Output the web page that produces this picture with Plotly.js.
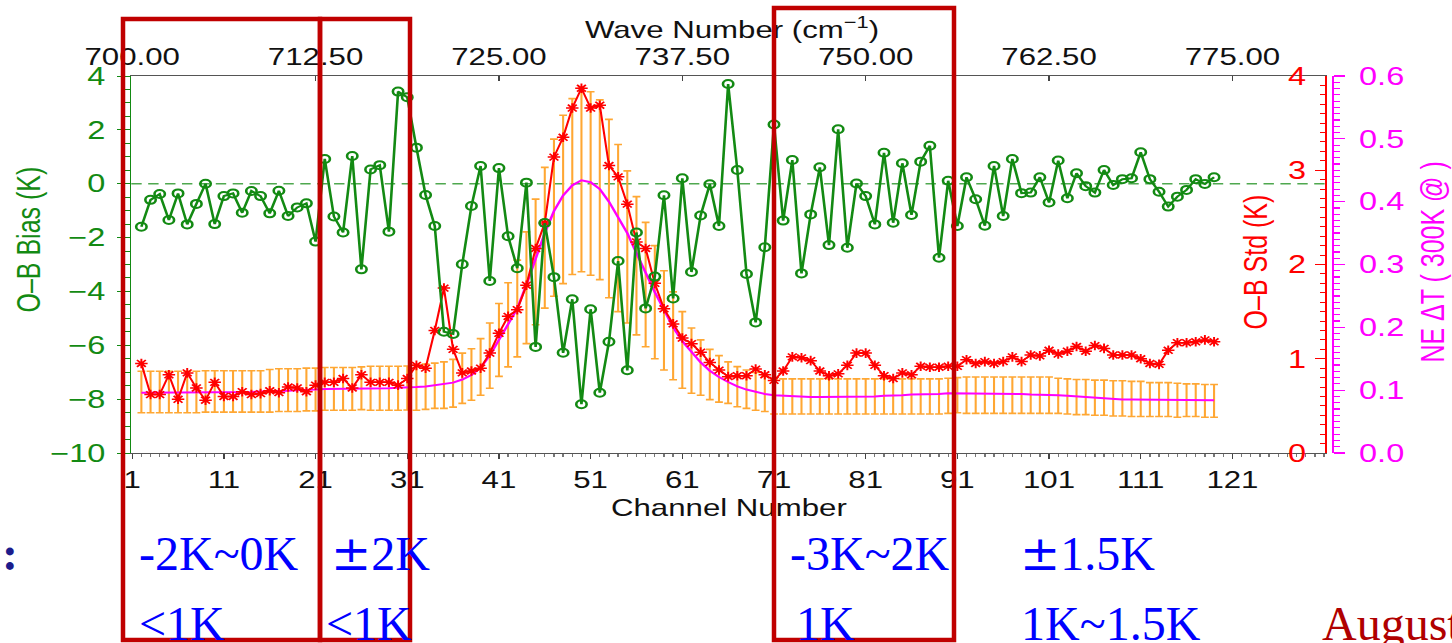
<!DOCTYPE html>
<html><head><meta charset="utf-8">
<script src="https://cdn.plot.ly/plotly-3.0.1.min.js"></script>
<style>
html,body{margin:0;padding:0;background:#fff;overflow:hidden;width:1452px;height:643px;}
#chart{position:absolute;left:0;top:0;width:1117px;height:643px;transform:scaleX(1.29991);transform-origin:0 0;}
#overlay{position:absolute;left:0;top:0;width:1452px;height:643px;pointer-events:none;}
</style></head><body>
<div id="chart"></div><div id="overlay"></div>
<script>
// ---------- data (channels 2..119) ----------
const obBias = [
 -1.60,-0.60,-0.38,-1.35,-0.36,-1.51,-0.75,0.00,-1.50,-0.46,
 -0.36,-1.08,-0.27,-0.46,-1.10,-0.26,-1.20,-0.88,-0.73,-2.15,
 0.92,-1.22,-1.81,1.03,-3.18,0.53,0.69,-1.78,3.42,3.21,
 1.34,-0.42,-1.57,-5.50,-5.58,-2.99,-0.83,0.66,-3.61,0.58,
 -1.95,-3.14,0.04,-6.06,-1.46,-3.47,-6.28,-4.29,-8.19,-4.66,
 -7.76,-5.87,-2.87,-6.93,-1.81,-4.63,-3.45,-0.43,-4.26,0.20,
 -3.28,-1.18,-0.02,-1.57,3.70,0.51,-3.35,-5.15,-2.36,2.20,
 -1.37,0.88,-3.33,-1.14,0.61,-2.28,2.02,-2.38,0.01,-0.46,
 -1.51,1.15,-1.45,0.76,-1.16,0.82,1.41,-2.75,0.11,-1.57,
 0.24,-0.58,-1.56,0.66,-1.20,0.92,-0.35,-0.33,0.24,-0.70,
 0.86,-0.54,0.39,-0.09,-0.33,0.51,-0.05,0.17,0.20,1.17,
 0.17,-0.30,-0.85,-0.48,-0.23,0.17,-0.01,0.24];
const obStd = [
 0.95,0.62,0.62,0.83,0.57,0.85,0.69,0.56,0.75,0.60,
 0.60,0.65,0.62,0.63,0.66,0.64,0.70,0.69,0.65,0.72,
 0.75,0.75,0.79,0.69,0.83,0.75,0.75,0.75,0.72,0.79,
 0.93,0.90,1.30,1.75,1.10,0.85,0.87,0.90,1.06,1.27,
 1.45,1.52,1.78,2.17,2.44,3.14,3.35,3.66,3.87,3.66,
 3.69,3.05,2.93,2.64,2.24,2.17,1.80,1.53,1.37,1.22,
 1.16,1.07,0.96,0.88,0.81,0.82,0.82,0.89,0.83,0.77,
 0.87,1.02,1.01,0.98,0.87,0.82,0.84,0.93,1.06,1.06,
 0.93,0.82,0.79,0.85,0.83,0.92,0.91,0.91,0.92,0.92,
 0.99,0.95,0.97,0.95,0.97,1.02,0.97,1.04,1.03,1.09,
 1.05,1.08,1.13,1.08,1.14,1.11,1.04,1.04,1.04,1.00,
 0.95,0.94,1.09,1.17,1.17,1.18,1.20,1.18];
const nedt = [
 0.096,0.096,0.096,0.096,0.096,0.096,0.096,0.096,0.097,0.097,
 0.097,0.097,0.097,0.098,0.098,0.098,0.099,0.100,0.100,0.101,
 0.102,0.102,0.102,0.103,0.103,0.103,0.103,0.103,0.104,0.104,
 0.105,0.106,0.108,0.110,0.112,0.117,0.124,0.136,0.155,0.180,
 0.205,0.230,0.268,0.308,0.350,0.385,0.410,0.426,0.434,0.431,
 0.420,0.400,0.376,0.350,0.318,0.286,0.256,0.228,0.200,0.178,
 0.160,0.144,0.131,0.121,0.113,0.106,0.101,0.097,0.094,0.092,
 0.091,0.090,0.090,0.089,0.089,0.089,0.089,0.089,0.089,0.090,
 0.090,0.091,0.091,0.092,0.093,0.093,0.094,0.094,0.095,0.095,
 0.095,0.095,0.095,0.094,0.094,0.094,0.094,0.093,0.093,0.093,
 0.092,0.091,0.090,0.088,0.087,0.086,0.086,0.085,0.085,0.085,
 0.085,0.085,0.084,0.084,0.084,0.084,0.084,0.084];
const errMid = [
 0.097,0.097,0.097,0.097,0.097,0.097,0.097,0.098,0.098,0.098,
 0.098,0.098,0.098,0.098,0.099,0.100,0.100,0.100,0.101,0.101,
 0.102,0.102,0.102,0.102,0.103,0.103,0.103,0.103,0.103,0.1035,
 0.104,0.1055,0.107,0.108,0.111,0.119,0.125,0.137,0.155,0.180,
 0.204,0.230,0.263,0.304,0.3425,0.3745,0.4035,0.424,0.4345,0.429,
 0.419,0.389,0.358,0.328,0.298,0.268,0.240,0.211,0.1865,0.164,
 0.147,0.136,0.125,0.118,0.112,0.1055,0.1015,0.098,0.094,0.090,
 0.090,0.090,0.090,0.090,0.090,0.090,0.090,0.090,0.090,0.090,
 0.090,0.090,0.090,0.090,0.090,0.090,0.090,0.090,0.091,0.092,
 0.092,0.092,0.092,0.092,0.092,0.092,0.092,0.092,0.092,0.092,
 0.091,0.090,0.089,0.089,0.088,0.088,0.087,0.087,0.086,0.086,
 0.085,0.085,0.085,0.084,0.084,0.084,0.083,0.083];
const errHalf = [
 0.033,0.033,0.033,0.033,0.033,0.033,0.033,0.033,0.033,0.033,
 0.033,0.033,0.033,0.033,0.034,0.034,0.034,0.034,0.034,0.034,
 0.034,0.034,0.034,0.034,0.034,0.035,0.035,0.035,0.035,0.035,
 0.036,0.036,0.036,0.037,0.038,0.040,0.041,0.045,0.052,0.058,
 0.067,0.077,0.089,0.100,0.112,0.125,0.134,0.140,0.146,0.146,
 0.143,0.142,0.133,0.121,0.110,0.099,0.090,0.079,0.070,0.061,
 0.052,0.044,0.040,0.037,0.033,0.032,0.0305,0.030,0.028,0.028,
 0.028,0.028,0.028,0.028,0.028,0.028,0.028,0.028,0.028,0.028,
 0.028,0.028,0.028,0.028,0.028,0.028,0.028,0.028,0.028,0.028,
 0.029,0.029,0.029,0.029,0.029,0.029,0.029,0.029,0.029,0.029,
 0.028,0.028,0.028,0.028,0.028,0.028,0.028,0.028,0.028,0.028,
 0.027,0.027,0.027,0.027,0.026,0.026,0.026,0.026];
const firstChannel = 2;
const channels = obBias.map((_, i) => i + firstChannel);

const chanTicks = [1, 11, 21, 31, 41, 51, 61, 71, 81, 91, 101, 111, 121];
const waveTicks = [700, 712.5, 725, 737.5, 750, 762.5, 775];
const waveTickText = ['700.00','712.50','725.00','737.50','750.00','762.50','775.00'];
const biasTicks = [-10, -8, -6, -4, -2, 0, 2, 4];
const stdTicks = [0, 1, 2, 3, 4];
const nedtTicks = [0, 0.1, 0.2, 0.3, 0.4, 0.5, 0.6];
const nedtTickText = ['0.0','0.1','0.2','0.3','0.4','0.5','0.6'];

const PM = '<span style="font-family:\'DejaVu Serif\'">±</span>';
const rowOne = ['-2K~0K', PM + '2K', '-3K~2K', PM + '1.5K'];
const rowTwo = ['<1K', '<1K', '1K', '1K~1.5K'];

// ---------- geometry ----------
const W = 1117, H = 643, SX = 1452 / W;
const L = 101, R = 92, T = 76, B = 190;
const PW = W - L - R, PH = H - T - B;
const px = xa => (xa / SX - L) / PW;        // actual-pixel x -> paper
const py = ya => (H - B - ya) / PH;          // actual-pixel y -> paper
const xEnd = px(1325);

const FONT = 'Liberation Sans, Arial, Helvetica, sans-serif';
const GREEN = '#138a13', RED = '#ff0000', MAG = '#ff00ff', ORANGE = '#ffa733';

const traces = [
  {x: channels, y: errMid, xaxis: 'x', yaxis: 'y', type: 'scatter', mode: 'markers',
   marker: {size: 2, color: 'rgba(0,0,0,0)'},
   error_y: {type: 'data', array: errHalf, visible: true, color: ORANGE, thickness: 1.6, width: 3},
   hoverinfo: 'skip', showlegend: false},
  {x: channels, y: nedt, xaxis: 'x', yaxis: 'y', type: 'scatter', mode: 'lines',
   line: {color: MAG, width: 2}, showlegend: false},
  {x: channels, y: obStd, xaxis: 'x', yaxis: 'y2', type: 'scatter', mode: 'lines+markers',
   line: {color: RED, width: 1.6},
   marker: {symbol: 'asterisk-open', size: 8, color: RED, line: {color: RED, width: 1.5}},
   showlegend: false},
  {x: channels, y: obBias, xaxis: 'x', yaxis: 'y3', type: 'scatter', mode: 'lines+markers',
   line: {color: GREEN, width: 2},
   marker: {symbol: 'circle-open', size: 8, color: GREEN, line: {color: GREEN, width: 2}},
   showlegend: false},
  {x: waveTicks, y: waveTicks.map(() => null), xaxis: 'x2', yaxis: 'y', type: 'scatter',
   mode: 'lines', hoverinfo: 'skip', showlegend: false},
  {x: [chanTicks[0]], y: [null], xaxis: 'x', yaxis: 'y4', type: 'scatter',
   mode: 'lines', hoverinfo: 'skip', showlegend: false}
];

const layout = {
  width: W, height: H,
  margin: {l: L, r: R, t: T, b: B, pad: 0},
  paper_bgcolor: '#ffffff', plot_bgcolor: '#ffffff',
  font: {family: FONT, size: 24, color: '#111'},
  showlegend: false,
  xaxis: {domain: [0, xEnd], range: [0.9, 131.1], anchor: 'y',
    tickmode: 'array', tickvals: chanTicks, ticks: 'outside', ticklen: 5, tickwidth: 1, tickcolor: '#444',
    showline: true, linecolor: '#555', linewidth: 1, showgrid: false, zeroline: false,
    tickfont: {size: 24, color: '#111'},
    minor: {tickmode: 'linear', tick0: 1, dtick: 1, ticks: 'outside', ticklen: 3, tickcolor: '#777', showgrid: false}},
  xaxis2: {overlaying: 'x', side: 'top', anchor: 'y', range: [699.9375, 781.3125],
    tickmode: 'array', tickvals: waveTicks, ticktext: waveTickText,
    ticks: 'inside', ticklen: 5, tickcolor: '#444', showline: true, linecolor: '#555', linewidth: 1,
    showgrid: false, zeroline: false, tickfont: {size: 24, color: '#111'}},
  yaxis: {domain: [0, 1], range: [0, 0.6], side: 'right', anchor: 'free', position: 1,
    tickmode: 'array', tickvals: nedtTicks, ticktext: nedtTickText,
    showline: true, linecolor: MAG, linewidth: 1.5, ticks: 'outside', ticklen: 8, tickwidth: 1.2, tickcolor: MAG,
    tickfont: {size: 25, color: MAG}, ticklabelstandoff: 6,
    minor: {tickmode: 'linear', tick0: 0, dtick: 0.01, ticks: 'outside', ticklen: 4, tickcolor: MAG, showgrid: false},
    showgrid: false, zeroline: false},
  yaxis2: {overlaying: 'y', side: 'right', anchor: 'x', range: [0, 4],
    tickmode: 'array', tickvals: stdTicks, showticklabels: false,
    showline: true, linecolor: RED, linewidth: 1.5, ticks: 'inside', ticklen: 8, tickcolor: RED,
    minor: {tickmode: 'linear', tick0: 0, dtick: 0.1, ticks: 'inside', ticklen: 4, tickcolor: RED, showgrid: false},
    showgrid: false, zeroline: false},
  yaxis4: {overlaying: 'y', side: 'left', anchor: 'free', position: px(1306), range: [0, 4],
    tickmode: 'array', tickvals: stdTicks, ticks: '', showline: false,
    tickfont: {size: 25, color: RED}, showgrid: false, zeroline: false},
  yaxis3: {overlaying: 'y', side: 'left', anchor: 'x', range: [-10, 4],
    tickmode: 'array', tickvals: biasTicks,
    showline: true, linecolor: GREEN, linewidth: 1, ticks: 'outside', ticklen: 10, tickcolor: GREEN,
    tickfont: {size: 25, color: GREEN}, ticklabelstandoff: 4,
    minor: {tickmode: 'linear', tick0: 0, dtick: 0.5, ticks: 'outside', ticklen: 5, tickcolor: GREEN, showgrid: false},
    showgrid: false, zeroline: false},
  shapes: [
    {type: 'line', xref: 'x domain', x0: 0, x1: 1, yref: 'y3', y0: 0, y1: 0,
     line: {color: '#4fa84f', width: 1.5, dash: '8px,5px'}, layer: 'below'}
  ],
  annotations: [
    {xref: 'paper', yref: 'paper', x: px(732), y: py(28), text: 'Wave Number (cm<sup>−1</sup>)',
     showarrow: false, xanchor: 'center', yanchor: 'middle', font: {size: 24, color: '#111'}},
    {xref: 'paper', yref: 'paper', x: px(728), y: py(507), text: 'Channel Number',
     showarrow: false, xanchor: 'center', yanchor: 'middle', font: {size: 24, color: '#111'}},
    {xref: 'paper', yref: 'paper', x: px(28), y: py(240), text: 'O–B Bias (K)', textangle: -90,
     showarrow: false, xanchor: 'center', yanchor: 'middle', font: {size: 25, color: GREEN}},
    {xref: 'paper', yref: 'paper', x: px(1255), y: py(262), text: 'O–B Std (K)', textangle: -90,
     showarrow: false, xanchor: 'center', yanchor: 'middle', font: {size: 25, color: RED}},
    {xref: 'paper', yref: 'paper', x: px(1432), y: py(262), text: 'NE ΔT ( 300K @ )', textangle: -90,
     showarrow: false, xanchor: 'center', yanchor: 'middle', font: {size: 25, color: MAG}}
  ]
};

Plotly.newPlot('chart', traces, layout, {staticPlot: true, displayModeBar: false});

// ---------- slide overlay (unstretched) ----------
const SERIF = 'Liberation Serif, Times New Roman, serif';
const BOX = '#c00000';
const ann = (x, y, text, color) => ({xref: 'x', yref: 'y', x: x, y: y, text: text, showarrow: false,
  xanchor: 'left', yanchor: 'middle', font: {family: SERIF, size: 48, color: color || '#0000ff'}});
const overlayLayout = {
  width: 1452, height: 643, margin: {l: 0, r: 0, t: 0, b: 0, pad: 0},
  paper_bgcolor: 'rgba(0,0,0,0)', plot_bgcolor: 'rgba(0,0,0,0)', showlegend: false,
  xaxis: {range: [0, 1452], visible: false, fixedrange: true},
  yaxis: {range: [643, 0], visible: false, fixedrange: true},
  shapes: [
    {type: 'rect', xref: 'x', yref: 'y', x0: 123, x1: 320, y0: 19, y1: 640, line: {color: BOX, width: 4.5}},
    {type: 'rect', xref: 'x', yref: 'y', x0: 320, x1: 410, y0: 19, y1: 640, line: {color: BOX, width: 4.5}},
    {type: 'rect', xref: 'x', yref: 'y', x0: 774, x1: 954, y0: 8, y1: 640, line: {color: BOX, width: 4.5}}
  ],
  annotations: [
    ann(0, 553, '<b>:</b>', '#1c1c8c'),
    ann(137, 553, rowOne[0]), ann(329, 553, rowOne[1]), ann(788, 553, rowOne[2]), ann(1018, 553, rowOne[3]),
    ann(137, 623, rowTwo[0]), ann(324, 623, rowTwo[1]), ann(794, 623, rowTwo[2]), ann(1019, 623, rowTwo[3]),
    ann(1320, 623, 'August', '#b00000')
  ]
};
Plotly.newPlot('overlay', [], overlayLayout, {staticPlot: true, displayModeBar: false});
</script>
</body></html>
